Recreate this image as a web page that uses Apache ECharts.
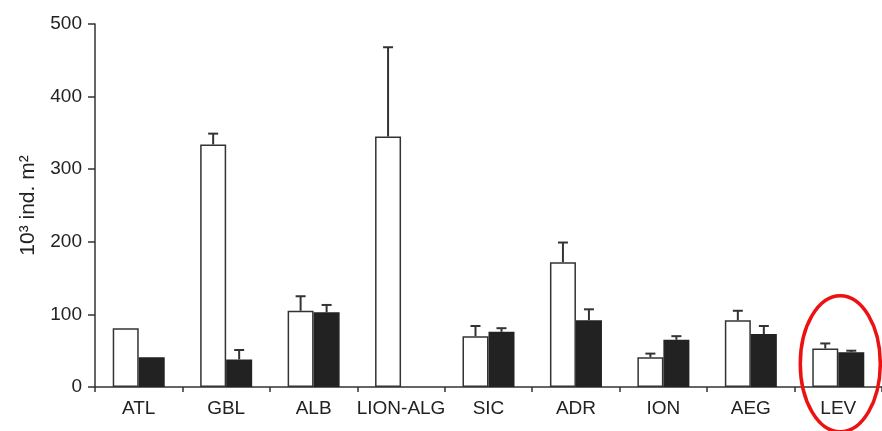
<!DOCTYPE html>
<html><head><meta charset="utf-8">
<script src="https://cdn.jsdelivr.net/npm/echarts@6/dist/echarts.min.js"></script>
<style>html,body{margin:0;padding:0;background:#fff}#c{width:882px;height:431px}</style>
</head><body><div id="c"></div>
<script>
const categories = ['ATL','GBL','ALB','LION-ALG','SIC','ADR','ION','AEG','LEV'];
const whiteValues = [81, 334, 105, 345, 70, 172, 41, 92, 53];
const whiteErrTop = [null, 349, 125, 468, 84, 199, 46, 105, 60];
const blackValues = [41, 38, 103, null, 76, 92, 65, 73, 48];
const blackErrTop = [null, 51, 113, null, 81, 107, 70, 84, 50];
const yMin = 0, yMax = 500, yStep = 100;
const highlightCategory = 'LEV';
const highlightValue = 32;

const BAR_W = 26, CAP = 5;
const FONT = "'Liberation Sans', Arial, Helvetica, sans-serif";
const INK = '#333';

const errData = [];
categories.forEach((c, i) => {
  if (whiteErrTop[i] != null) errData.push([i, whiteValues[i], whiteErrTop[i], -1]);
  if (blackErrTop[i] != null) errData.push([i, blackValues[i], blackErrTop[i], 1]);
});

const chart = echarts.init(document.getElementById('c'), null, {renderer: 'canvas'});
chart.setOption({
  animation: false,
  backgroundColor: '#fff',
  grid: {left: 95, right: -4, top: 24, bottom: 44, containLabel: false},
  xAxis: {
    type: 'category', data: categories, boundaryGap: true,
    axisLine: {show: true, lineStyle: {color: INK, width: 1.5}},
    axisTick: {show: true, inside: false, length: 5, alignWithLabel: false, lineStyle: {color: INK, width: 1.5}},
    axisLabel: {color: '#222', fontFamily: FONT, fontSize: 19, margin: 12, interval: 0},
    splitLine: {show: false}
  },
  yAxis: {
    type: 'value', min: yMin, max: yMax, interval: yStep,
    name: '10³ ind. m²', nameLocation: 'middle', nameRotate: 90, nameGap: 56,
    nameTextStyle: {color: '#222', fontFamily: FONT, fontSize: 21},
    axisLine: {show: true, lineStyle: {color: INK, width: 1.5}},
    axisTick: {show: true, inside: false, length: 7, lineStyle: {color: INK, width: 1.5}},
    axisLabel: {color: '#222', fontFamily: FONT, fontSize: 19, margin: 13},
    splitLine: {show: false}
  },
  series: [
    {type: 'bar', data: whiteValues, barWidth: BAR_W, barGap: 0,
     itemStyle: {color: '#fff', borderColor: INK, borderWidth: 1.5}},
    {type: 'bar', data: blackValues, barWidth: BAR_W, barGap: 0,
     itemStyle: {color: '#222', borderColor: '#222', borderWidth: 1.5}},
    {type: 'custom', data: errData, z: 5,
     renderItem: function (params, api) {
       const ci = api.value(0), v = api.value(1), e = api.value(2), side = api.value(3);
       const base = api.coord([ci, v]);
       const top = api.coord([ci, e]);
       const x = base[0] + side * BAR_W / 2;
       return {type: 'group', children: [
         {type: 'line', shape: {x1: x, y1: base[1], x2: x, y2: top[1]}, style: {stroke: INK, lineWidth: 2}},
         {type: 'line', shape: {x1: x - CAP, y1: top[1], x2: x + CAP, y2: top[1]}, style: {stroke: INK, lineWidth: 2}}
       ]};
     }}
  ]
});
const p = chart.convertToPixel({xAxisIndex: 0, yAxisIndex: 0}, [highlightCategory, highlightValue]);
chart.setOption({
  graphic: [{type: 'ellipse', shape: {cx: p[0] + 2, cy: p[1], rx: 40, ry: 68},
    style: {fill: 'none', stroke: '#ee1111', lineWidth: 3.5}, z: 100}]
});
</script></body></html>
